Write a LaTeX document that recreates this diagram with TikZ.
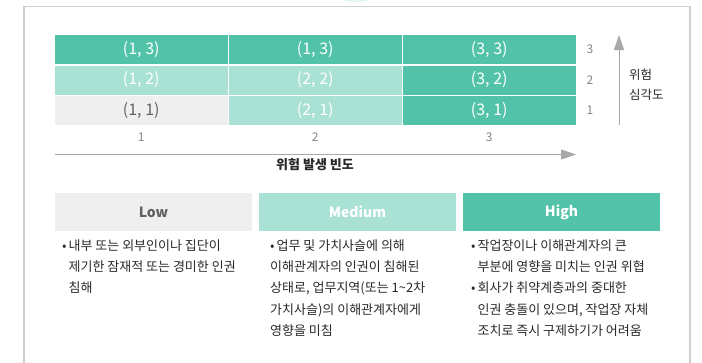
\documentclass[tikz,border=0pt]{standalone}
\usepackage{fontspec}
\setmainfont{Noto Sans CJK KR}
\usetikzlibrary{arrows.meta,positioning}
\definecolor{figteal}{HTML}{52C3A9}
\definecolor{figmint}{HTML}{A9E1D4}
\definecolor{figpale}{HTML}{EFEFEF}
\definecolor{figgraytext}{HTML}{626262}
\definecolor{figticktext}{HTML}{858585}
\definecolor{figaxisgray}{HTML}{A8A8A8}
\definecolor{figframe}{HTML}{CFCFCF}
\definecolor{figbodytext}{HTML}{2A2A2A}
\tikzset{
  figcell/.style={draw=none, minimum width=172.5pt, minimum height=29pt, inner sep=0pt, font=\fontsize{16}{16}\selectfont},
  fighead/.style={draw=none, minimum width=197pt, minimum height=37.5pt, inner sep=0pt, font=\fontsize{14}{14}\selectfont\bfseries},
  figaxis/.style={draw=figaxisgray, line width=1pt},
  figtick/.style={text=figticktext, inner sep=0pt, font=\fontsize{12}{12}\selectfont},
  figbody/.style={text=figbodytext, inner sep=0pt, anchor=north west, font=\fontsize{13}{21.3}\selectfont}
}
\begin{document}
\begin{tikzpicture}[x=1pt,y=-1pt]
  \useasboundingbox (0,0) rectangle (702,362);
  \fill[white] (0,0) rectangle (702,362);
  % faint badge peeking in above the frame
  \fill[figmint!30] (356,-4) ellipse (17 and 6);
  % outer frame, open at the bottom
  \draw[figframe, line width=1.6pt] (24,370) -- (24,6.5) -- (690,6.5) -- (690,370);
  % 3x3 matrix: column = frequency, row = severity
  \foreach \c/\r/\shade/\ink/\lab in {1/3/figteal/white/{(1, 3)}, 2/3/figteal/white/{(1, 3)}, 3/3/figteal/white/{(3, 3)},
                                      1/2/figmint/white/{(1, 2)}, 2/2/figmint/white/{(2, 2)}, 3/2/figteal/white/{(3, 2)},
                                      1/1/figpale/figgraytext/{(1, 1)}, 2/1/figmint/white/{(2, 1)}, 3/1/figteal/white/{(3, 1)}} {
    \node[figcell, fill=\shade, text=\ink] (cell\c\r) at ({141.25+174*(\c-1)},{49.5+30.5*(3-\r)}) {\lab};
  }
  % column and row numbers
  \foreach \c in {1,2,3} {
    \node[figtick] (colnum\c) at ({141.25+174*(\c-1)},137) {\c};
  }
  \foreach \r in {1,2,3} {
    \node[figtick] (rownum\r) at (590,{49.5+30.5*(3-\r)}) {\r};
  }
  % frequency axis
  \coordinate (xstart) at (55,154.5);
  \coordinate (xend) at (576,154.5);
  \draw[figaxis, -{Triangle[length=15pt,width=10pt]}] (xstart) -- (xend);
  \node[text=figbodytext, font=\fontsize{13}{13}\selectfont\bfseries] (xlabel) at (315,165) {위험 발생 빈도};
  % severity axis
  \coordinate (ystart) at (619,125);
  \coordinate (yend) at (619,35);
  \draw[figaxis, -{Triangle[length=15pt,width=10pt]}] (ystart) -- (yend);
  \node[anchor=west, align=left, inner sep=0pt, text=figbodytext, font=\fontsize{12.5}{19.5}\selectfont] (ylabel) at (629,85) {위험\\심각도};
  % level headers
  \foreach \i/\shade/\ink/\lab in {1/figpale/figgraytext/Low, 2/figmint/white/Medium, 3/figteal/white/High} {
    \node[fighead, fill=\shade, text=\ink] (head\i) at ({153.5+204*(\i-1)},212) {\lab};
  }
  % level descriptions
  \node[figbody] (lowtext) at (62,235) {\begin{tabular}{@{}l@{\hspace{2pt}}l@{}}
    •&내부 또는 외부인이나 집단이\\
    &제기한 잠재적 또는 경미한 인권\\
    &침해
  \end{tabular}};
  \node[figbody] (midtext) at (270,235) {\begin{tabular}{@{}l@{\hspace{2pt}}l@{}}
    •&업무 및 가치사슬에 의해\\
    \multicolumn{2}{@{}l@{}}{이해관계자의 인권이 침해된}\\
    \multicolumn{2}{@{}l@{}}{상태로, 업무지역(또는 1\textasciitilde 2차}\\
    \multicolumn{2}{@{}l@{}}{가치사슬)의 이해관계자에게}\\
    \multicolumn{2}{@{}l@{}}{영향을 미침}
  \end{tabular}};
  \node[figbody] (hightext) at (471,235) {\begin{tabular}{@{}l@{\hspace{2pt}}l@{}}
    •&작업장이나 이해관계자의 큰\\
    &부분에 영향을 미치는 인권 위협\\
    •&회사가 취약계층과의 중대한\\
    &인권 충돌이 있으며, 작업장 자체\\
    &조치로 즉시 구제하기가 어려움
  \end{tabular}};
\end{tikzpicture}
\end{document}
